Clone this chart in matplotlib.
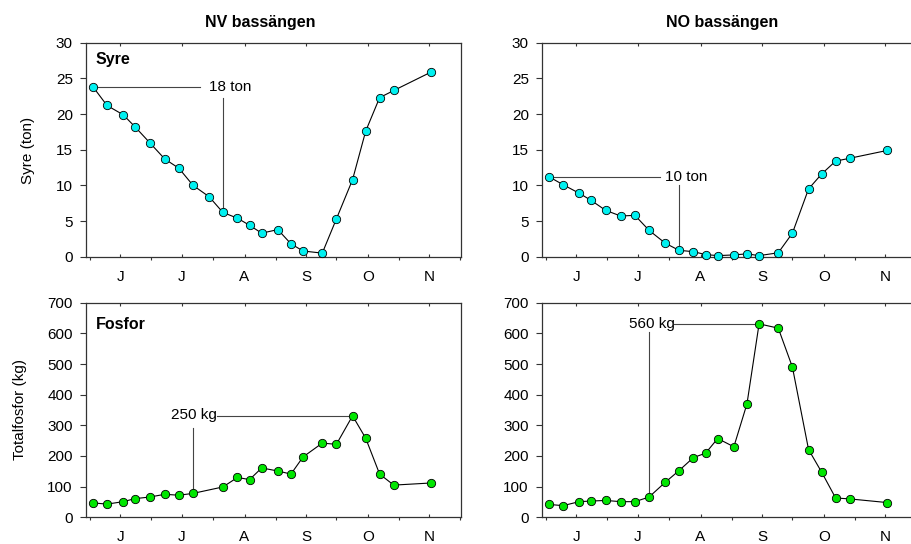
import matplotlib
matplotlib.use("Agg")
import matplotlib.pyplot as plt
import numpy as np

plt.rcParams['font.family'] = ['Liberation Sans', 'DejaVu Sans']

# dag efter 1 juni
days = [1.5, 8.4, 16.4, 22.3, 29.5, 37, 44, 51, 59, 65.8, 73, 79, 85, 93,
        99.5, 105.5, 115, 122, 130, 136.5, 143.4, 150.4, 169]
days_fos_nv = [d for i, d in enumerate(days) if i != 8]

syre_nv = [23.8, 21.2, 19.9, 18.2, 16.0, 13.7, 12.4, 10.0, 8.4, 6.2, 5.4, 4.4,
           3.3, 3.8, 1.8, 0.8, 0.5, 5.3, 10.8, 17.6, 22.3, 23.3, 25.9]
syre_no = [11.2, 10.1, 8.9, 7.9, 6.5, 5.7, 5.8, 3.7, 1.9, 0.9, 0.7, 0.3, 0.15,
           0.25, 0.4, 0.15, 0.55, 3.3, 9.5, 11.6, 13.4, 13.8, 14.9]
fosfor_nv = [47, 43, 51, 61, 66, 75, 72, 78, 99, 130, 123, 161, 151, 141, 197,
             242, 238, 331, 258, 141, 105, 112]
fosfor_no = [42, 38, 51, 53, 55, 51, 51, 66, 114, 152, 195, 209, 257, 230, 370,
             631, 617, 490, 221, 147, 63, 60, 48]

month_starts = [0, 30, 61, 92, 122, 153, 183]
month_labels = ['J', 'J', 'A', 'S', 'O', 'N']
month_mid = [(a + b) / 2 for a, b in zip(month_starts[:-1], month_starts[1:])]

W, H = 912, 544
fig = plt.figure(figsize=(W / 100, H / 100), dpi=100)


def px_axes(left, top, right, bottom):
    return fig.add_axes([left / W, 1 - bottom / H, (right - left) / W, (bottom - top) / H])


ax_tl = px_axes(86, 42.7, 461, 256.7)
ax_tr = px_axes(542, 42.7, 917, 256.7)
ax_bl = px_axes(86, 302.7, 461, 517.3)
ax_br = px_axes(542, 302.7, 917, 517.3)

cyan = '#00f0f0'
green = '#00e600'
annot = '#444444'


def style(ax, ymax, ystep):
    ax.set_xlim(-2, 183.7)
    ax.set_ylim(0, ymax)
    ax.set_yticks(np.arange(0, ymax + 1, ystep))
    ax.set_xticks(month_starts)
    ax.set_xticks(month_mid, minor=True)
    ax.set_xticklabels(month_labels, minor=True)
    ax.tick_params(axis='x', which='major', direction='out', length=2.5, width=0.8,
                   bottom=True, top=False, labelbottom=False, color='#333333')
    ax.tick_params(axis='x', which='minor', direction='in', length=2, width=0.8,
                   bottom=True, top=True, pad=9.5, labelsize=11, color='#333333')
    ax.tick_params(axis='y', direction='out', length=4.5, width=0.8, pad=5,
                   labelsize=11, color='#333333')
    for s in ax.spines.values():
        s.set_linewidth(0.9)
        s.set_color('#333333')


def series(ax, x, y, color):
    ax.plot(x, y, color='black', lw=0.8, marker='o', markersize=6,
            markerfacecolor=color, markeredgecolor='black', markeredgewidth=0.6,
            zorder=3, clip_on=False)


# Syre NV
style(ax_tl, 30, 5)
series(ax_tl, days, syre_nv, cyan)
ax_tl.plot([days[0], 54.5], [syre_nv[0], syre_nv[0]], color=annot, lw=0.8)
ax_tl.text(59, syre_nv[0], '18 ton', fontsize=11, va='center', ha='left')
ax_tl.plot([days[9], days[9]], [22.3, syre_nv[9]], color=annot, lw=0.8)
ax_tl.text(0.026, 0.92, 'Syre', transform=ax_tl.transAxes, fontsize=11.5,
           fontweight='bold', va='center', ha='left')

# Syre NO
style(ax_tr, 30, 5)
series(ax_tr, days, syre_no, cyan)
ax_tr.plot([days[0], 56.6], [syre_no[0], syre_no[0]], color=annot, lw=0.8)
ax_tr.text(59, syre_no[0], '10 ton', fontsize=11, va='center', ha='left')
ax_tr.plot([days[9], days[9]], [10.0, syre_no[9]], color=annot, lw=0.8)

# Fosfor NV
style(ax_bl, 700, 100)
series(ax_bl, days_fos_nv, fosfor_nv, green)
ax_bl.text(62.7, 334, '250 kg', fontsize=11, va='center', ha='right')
ax_bl.plot([62.7, days_fos_nv[17]], [331, fosfor_nv[17]], color=annot, lw=0.8)
ax_bl.plot([days_fos_nv[7], days_fos_nv[7]], [292, fosfor_nv[7]], color=annot, lw=0.8)
ax_bl.text(0.026, 0.90, 'Fosfor', transform=ax_bl.transAxes, fontsize=11.5,
           fontweight='bold', va='center', ha='left')

# Fosfor NO
style(ax_br, 700, 100)
series(ax_br, days, fosfor_no, green)
ax_br.text(63.6, 629, '560 kg', fontsize=11, va='center', ha='right')
ax_br.plot([63.6, days[15]], [631, fosfor_no[15]], color=annot, lw=0.8)
ax_br.plot([days[7], days[7]], [605, fosfor_no[7]], color=annot, lw=0.8)

fig.text(260 / W, 1 - 23 / H, 'NV bassängen', fontsize=11.5, fontweight='bold',
         ha='center', va='center')
fig.text(721.7 / W, 1 - 23 / H, 'NO bassängen', fontsize=11.5, fontweight='bold',
         ha='center', va='center')
fig.text(28 / W, 1 - 150 / H, 'Syre (ton)', fontsize=11, rotation=90,
         ha='center', va='center')
fig.text(20 / W, 1 - 410 / H, 'Totalfosfor (kg)', fontsize=11, rotation=90,
         ha='center', va='center')

fig.savefig('out.png', dpi=100)
